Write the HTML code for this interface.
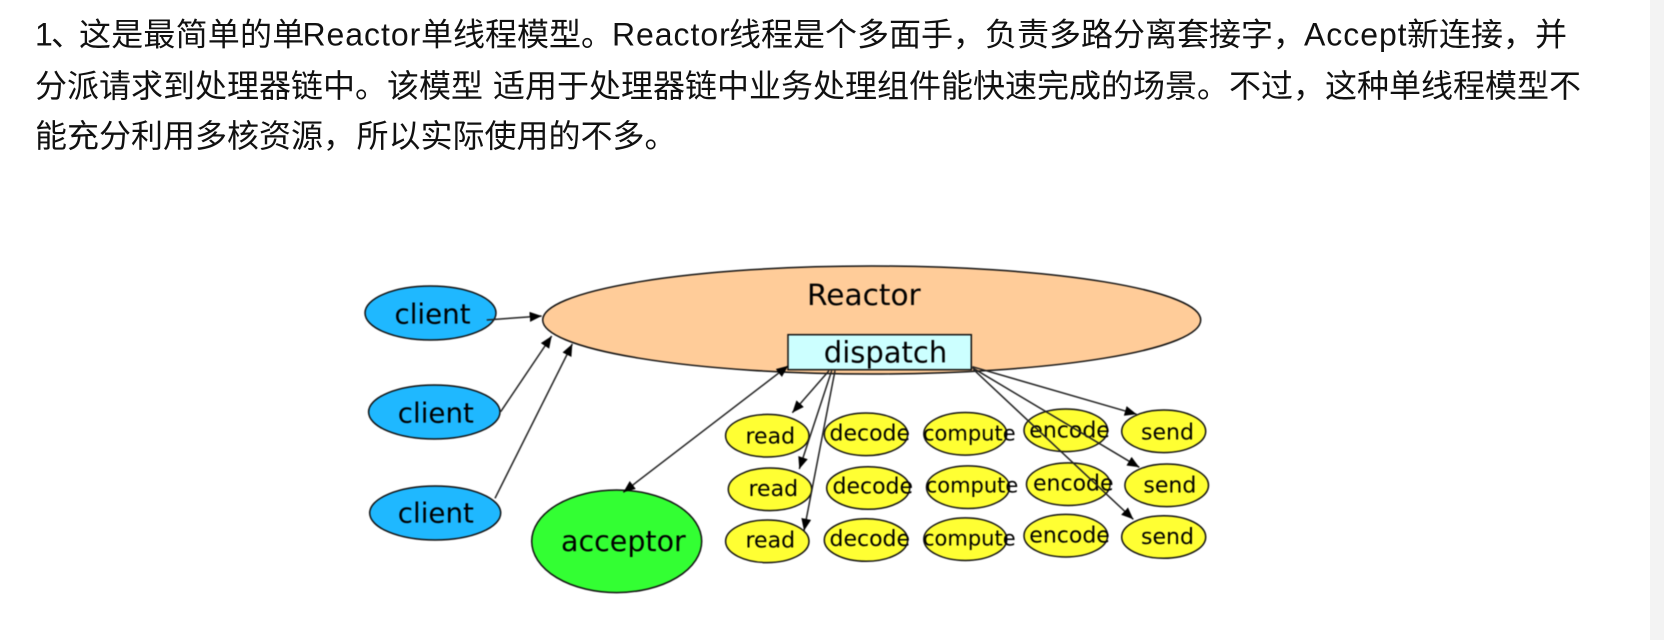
<!DOCTYPE html>
<html lang="zh">
<head>
<meta charset="utf-8">
<title>Reactor</title>
<style>
html,body{margin:0;padding:0;width:1664px;height:640px;overflow:hidden;background:#fff}
svg{display:block;position:absolute;left:0;top:0}
.t{font-family:"Liberation Sans","Noto Sans CJK SC",sans-serif;font-size:32px;fill:#111}
.l{letter-spacing:.95px}
#d{filter:blur(.5px)}
#d text{font-family:"DejaVu Sans",sans-serif;fill:#000}
#d ellipse,#d rect{stroke:#111;stroke-width:1.5}
.y{fill:#ffff33}
.b{fill:#1fb8ff}
.s{font-size:22px}
.c{font-size:21px}
#d line{stroke:#222;stroke-width:1.5;marker-end:url(#a)}
</style>
</head>
<body>
<svg width="1664" height="640" viewBox="0 0 1664 640" xmlns="http://www.w3.org/2000/svg">
<defs>
<marker id="a" markerUnits="userSpaceOnUse" markerWidth="14" markerHeight="12" refX="12" refY="5" orient="auto"><path d="M0 0L12 5L0 10Z" fill="#000"/></marker>
<marker id="a2" markerUnits="userSpaceOnUse" markerWidth="14" markerHeight="12" refX="12" refY="5" orient="auto-start-reverse"><path d="M0 0L12 5L0 10Z" fill="#000"/></marker>
</defs>
<rect x="0" y="0" width="1664" height="640" fill="#fff"/>
<rect x="1650" y="0" width="14" height="640" fill="#f3f3f3"/>
<text class="t" x="35" y="45.5">1</text>
<text class="t" x="51" y="45.5">、</text>
<text class="t" x="79" y="45.5" style="letter-spacing:.2px">这是最简单的单</text>
<text class="t l" x="302.5" y="45.5">Reactor</text>
<text class="t" x="421" y="45.5">单线程模型。</text>
<text class="t l" x="612" y="45.5">Reactor</text>
<text class="t" x="729" y="45.5">线程是个多面手，负责多路分离套接字，</text>
<text class="t l" x="1304" y="45.5">Accept</text>
<text class="t" x="1407" y="45.5">新连接，并</text>
<text class="t" x="35" y="97">分派请求到处理器链中。该模型</text>
<text class="t" x="493" y="97">适用于处理器链中业务处理组件能快速完成的场景。不过，这种单线程模型不</text>
<text class="t" x="35" y="147">能充分利用多核资源，</text>
<text class="t" x="356.5" y="147">所以实际使用的不多。</text>
<g id="d">
<ellipse cx="871.7" cy="320" rx="329" ry="54" fill="#ffcc99"/>
<rect x="788" y="334.7" width="183.3" height="35" fill="#ccffff"/>
<ellipse class="b" cx="430.5" cy="313" rx="65.5" ry="27"/>
<ellipse class="b" cx="434.3" cy="412" rx="65.7" ry="27"/>
<ellipse class="b" cx="435.2" cy="513" rx="65.5" ry="27"/>
<ellipse cx="616.7" cy="541.3" rx="85" ry="51.3" fill="#33ff33"/>
<ellipse class="y" cx="767.3" cy="435.7" rx="41.7" ry="21.3"/>
<ellipse class="y" cx="866" cy="434.3" rx="41.7" ry="21.3"/>
<ellipse class="y" cx="965.3" cy="433.8" rx="41.5" ry="21.3"/>
<ellipse class="y" cx="1065.8" cy="430.3" rx="41.8" ry="21.3"/>
<ellipse class="y" cx="1163.7" cy="431.3" rx="42" ry="21.3"/>
<ellipse class="y" cx="770" cy="489.3" rx="41.7" ry="21.3"/>
<ellipse class="y" cx="868.2" cy="488" rx="41.5" ry="21.3"/>
<ellipse class="y" cx="968" cy="487.2" rx="41.5" ry="21.3"/>
<ellipse class="y" cx="1068.3" cy="484.2" rx="41.8" ry="21.3"/>
<ellipse class="y" cx="1166.7" cy="485.3" rx="41.8" ry="21.3"/>
<ellipse class="y" cx="767.3" cy="541.3" rx="41.7" ry="21.3"/>
<ellipse class="y" cx="866" cy="540" rx="41.7" ry="21.3"/>
<ellipse class="y" cx="965.3" cy="539.2" rx="41.5" ry="21.3"/>
<ellipse class="y" cx="1065.8" cy="535.7" rx="41.8" ry="21.3"/>
<ellipse class="y" cx="1163.7" cy="537" rx="42" ry="21.3"/>
<text x="807" y="305" font-size="29.6">Reactor</text>
<text x="823.8" y="362.3" font-size="29">dispatch</text>
<text x="394.5" y="323.3" font-size="27.7">client</text>
<text x="397.8" y="422.7" font-size="27.7">client</text>
<text x="397.8" y="522.7" font-size="27.7">client</text>
<text x="561" y="551" font-size="28.5">acceptor</text>
<text class="s" x="745.5" y="443.3">read</text>
<text class="s" x="829.5" y="440.7">decode</text>
<text class="c" x="923" y="440.3">compute</text>
<text class="s" x="1029.3" y="437.7">encode</text>
<text class="s" x="1141" y="439.3">send</text>
<text class="s" x="748.5" y="496">read</text>
<text class="s" x="832.5" y="493.3">decode</text>
<text class="c" x="925.7" y="492.7">compute</text>
<text class="s" x="1033" y="490.7">encode</text>
<text class="s" x="1143.4" y="492.3">send</text>
<text class="s" x="745.5" y="547.7">read</text>
<text class="s" x="829.5" y="546">decode</text>
<text class="c" x="923" y="545.3">compute</text>
<text class="s" x="1029.3" y="542.7">encode</text>
<text class="s" x="1141" y="544">send</text>
<line x1="486.7" y1="320" x2="541.7" y2="316"/>
<line x1="500.7" y1="411.7" x2="551.7" y2="336"/>
<line x1="495" y1="498.3" x2="572.3" y2="344"/>
<line x1="623.3" y1="492.3" x2="788.3" y2="365.7" style="marker-start:url(#a2);marker-end:url(#a2)"/>
<line x1="829" y1="370.7" x2="792.3" y2="412.7"/>
<line x1="831.7" y1="370.7" x2="799.3" y2="469"/>
<line x1="835" y1="370.7" x2="804" y2="530.7"/>
<line x1="972.3" y1="366.7" x2="1136.7" y2="414.3"/>
<line x1="972.3" y1="367.7" x2="1139.3" y2="467.3"/>
<line x1="973.3" y1="369.3" x2="1133.3" y2="519.3"/>
</g>
</svg>
</body>
</html>
